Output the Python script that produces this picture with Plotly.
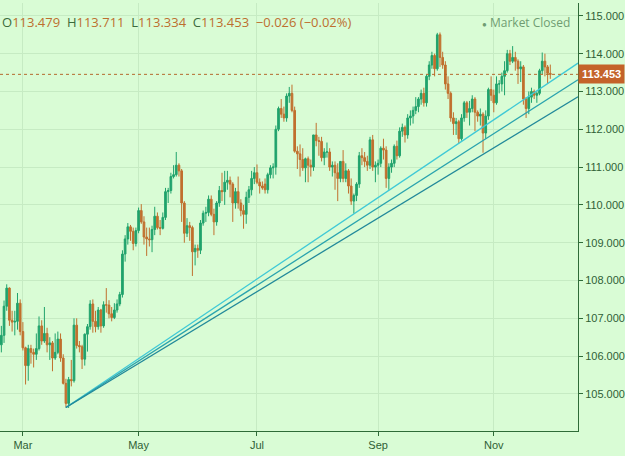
import pandas as pd
import plotly.graph_objects as go

# daily USD/JPY bars, one row per week (Mon..Fri), Feb 19 - Nov 30 2018
dates = pd.bdate_range("2018-02-19", "2018-11-30")

opens = [
    106.30, 106.55, 107.32, 107.80, 106.95,
    106.90, 106.92, 107.40, 106.65, 106.22,
    105.75, 106.20, 106.10, 106.05, 106.20,
    106.80, 106.40, 106.60, 106.30, 106.35,
    105.95, 106.10, 106.45, 105.95, 105.28,
    104.75, 105.38, 105.35, 106.82, 106.28,
    106.25, 105.92, 106.58, 106.78, 107.38,
    106.92, 106.78, 107.22, 106.80, 107.36,
    107.35, 107.12, 107.02, 107.22, 107.38,
    107.63, 108.70, 109.10, 109.42, 109.30,
    108.98, 109.32, 109.85, 109.55, 109.15,
    109.10, 109.08, 109.35, 109.70, 109.40,
    109.38, 109.67, 110.35, 110.38, 110.75,
    110.80, 111.05, 110.90, 110.05, 109.25,
    109.45, 109.40, 108.76, 108.85, 108.80,
    109.52, 109.78, 109.80, 110.15, 109.75,
    109.55, 110.05, 110.38, 110.35, 110.60,
    110.65, 110.55, 110.05, 110.35, 110.05,
    109.85, 109.75, 110.20, 110.40, 110.70,
    110.85, 110.60, 110.50, 110.55, 110.40,
    110.80, 110.98, 111.00, 112.00, 112.55,
    112.40, 112.30, 112.88, 112.95, 112.50,
    111.42, 111.35, 111.20, 110.98, 111.22,
    111.05, 111.00, 111.85, 111.70, 111.68,
    111.25, 111.40, 111.40, 111.00, 111.05,
    110.85, 110.70, 111.15, 110.70, 110.90,
    110.50, 110.10, 110.25, 110.55, 111.30,
    111.25, 111.15, 111.05, 111.72, 111.00,
    111.05, 111.10, 111.50, 111.45, 110.70,
    111.00, 111.10, 111.55, 111.30, 111.95,
    112.05, 111.85, 112.30, 112.35, 112.50,
    112.60, 112.80, 112.95, 112.70, 113.40,
    113.70, 113.95, 113.60, 114.50, 113.90,
    113.70, 113.20, 112.95, 112.30, 112.15,
    112.20, 111.75, 112.30, 112.70, 112.45,
    112.55, 112.80, 112.45, 112.35, 112.40,
    111.90, 112.35, 113.05, 112.90, 112.70,
    113.20, 113.20, 113.40, 113.55, 114.00,
    113.80, 113.90, 113.80, 113.60, 113.65,
    112.80, 112.55, 112.85, 113.00, 112.90,
    112.95, 113.55, 113.80, 113.65, 113.479,
]
highs = [
    106.80, 107.47, 107.90, 107.82, 107.20,
    107.20, 107.67, 107.50, 106.90, 106.25,
    106.30, 106.30, 106.20, 106.60, 107.05,
    106.95, 107.30, 106.75, 106.50, 106.40,
    106.60, 106.65, 106.60, 106.05, 105.40,
    105.45, 105.90, 107.00, 107.00, 106.40,
    106.30, 106.60, 106.85, 107.48, 107.50,
    107.20, 107.30, 107.25, 107.45, 107.80,
    107.48, 107.30, 107.40, 107.50, 107.70,
    108.80, 109.20, 109.52, 109.47, 109.40,
    109.40, 109.93, 110.02, 109.70, 109.40,
    109.40, 109.45, 109.95, 109.80, 109.60,
    109.80, 110.45, 110.45, 110.85, 111.05,
    111.40, 111.10, 110.95, 110.10, 109.65,
    109.55, 109.45, 108.95, 108.95, 109.60,
    109.85, 109.95, 110.25, 110.25, 109.90,
    110.10, 110.50, 110.85, 110.90, 110.90,
    110.75, 110.60, 110.45, 110.75, 110.15,
    110.00, 110.35, 110.50, 110.90, 111.00,
    111.07, 110.70, 110.62, 110.70, 110.85,
    111.05, 111.10, 112.10, 112.60, 112.80,
    112.60, 112.95, 113.12, 113.18, 112.60,
    111.55, 111.60, 111.50, 111.25, 111.28,
    111.20, 111.85, 112.17, 111.80, 111.80,
    111.50, 111.65, 111.50, 111.15, 111.15,
    111.10, 111.15, 111.45, 111.10, 110.95,
    110.70, 110.30, 110.60, 111.40, 111.50,
    111.40, 111.30, 111.80, 111.85, 111.15,
    111.20, 111.55, 111.75, 111.55, 111.10,
    111.20, 111.60, 111.70, 112.05, 112.15,
    112.10, 112.40, 112.50, 112.60, 112.85,
    112.85, 113.05, 113.10, 113.45, 113.80,
    114.05, 114.00, 114.55, 114.56, 114.05,
    113.80, 113.40, 113.00, 112.45, 112.30,
    112.25, 112.40, 112.75, 112.75, 112.75,
    112.90, 112.85, 112.50, 112.55, 112.45,
    112.50, 113.10, 113.40, 113.05, 113.40,
    113.30, 113.50, 113.80, 114.10, 114.10,
    114.20, 114.05, 113.85, 113.80, 113.70,
    112.85, 113.00, 113.10, 113.05, 113.00,
    113.60, 114.03, 114.00, 113.70, 113.711,
]
lows = [
    106.10, 106.35, 107.20, 106.80, 106.65,
    106.55, 106.70, 106.55, 106.15, 105.25,
    105.35, 105.80, 105.70, 105.90, 106.15,
    106.30, 106.35, 106.10, 105.90, 105.60,
    105.90, 106.05, 105.85, 105.25, 104.64,
    104.63, 105.20, 105.30, 106.20, 106.10,
    105.66, 105.75, 106.12, 106.70, 106.62,
    106.63, 106.70, 106.62, 106.75, 107.15,
    107.00, 106.92, 106.98, 107.15, 107.32,
    107.55, 108.50, 108.95, 109.05, 108.80,
    108.90, 109.25, 109.50, 108.95, 108.65,
    108.90, 108.75, 109.20, 109.35, 109.20,
    109.35, 109.60, 110.05, 110.30, 110.70,
    110.75, 110.75, 109.55, 109.00, 109.15,
    109.05, 108.12, 108.40, 108.60, 108.70,
    109.45, 109.55, 109.70, 109.70, 109.20,
    109.45, 109.95, 110.10, 110.00, 110.40,
    110.20, 109.55, 109.90, 109.90, 109.70,
    109.37, 109.50, 110.05, 110.25, 110.55,
    110.55, 110.30, 110.40, 110.30, 110.30,
    110.70, 110.70, 110.80, 111.95, 112.30,
    112.20, 112.20, 112.70, 112.45, 111.38,
    110.95, 110.75, 110.90, 110.60, 110.60,
    110.75, 110.90, 111.55, 111.30, 111.15,
    111.05, 111.25, 110.90, 110.75, 110.40,
    110.10, 110.60, 110.60, 110.60, 110.30,
    110.00, 109.77, 110.10, 110.45, 111.05,
    111.00, 110.90, 110.95, 110.90, 110.60,
    110.80, 111.00, 111.20, 110.45, 110.40,
    110.85, 111.00, 111.20, 111.25, 111.80,
    111.65, 111.75, 112.10, 112.15, 112.40,
    112.45, 112.65, 112.60, 112.60, 113.30,
    113.60, 113.40, 113.55, 113.65, 113.60,
    113.05, 112.80, 112.20, 111.85, 111.85,
    111.63, 111.70, 112.20, 112.30, 112.10,
    112.45, 111.95, 112.20, 112.10, 111.38,
    111.75, 112.25, 112.75, 112.45, 112.65,
    112.95, 113.00, 112.90, 113.50, 113.70,
    113.75, 113.55, 113.20, 113.25, 112.65,
    112.30, 112.40, 112.70, 112.80, 112.70,
    112.90, 113.45, 113.40, 113.20, 113.334,
]
closes = [
    106.55, 107.32, 107.80, 106.95, 106.90,
    106.92, 107.40, 106.65, 106.22, 105.75,
    106.20, 106.10, 106.05, 106.20, 106.80,
    106.40, 106.60, 106.30, 106.35, 105.95,
    106.10, 106.45, 105.95, 105.28, 104.75,
    105.38, 105.35, 106.82, 106.28, 106.25,
    105.92, 106.58, 106.78, 107.38, 106.92,
    106.78, 107.22, 106.80, 107.36, 107.35,
    107.12, 107.02, 107.22, 107.38, 107.63,
    108.70, 109.10, 109.42, 109.30, 108.98,
    109.32, 109.85, 109.55, 109.15, 109.10,
    109.08, 109.35, 109.70, 109.40, 109.38,
    109.67, 110.35, 110.38, 110.75, 110.80,
    111.05, 110.90, 110.05, 109.25, 109.45,
    109.40, 108.76, 108.85, 108.80, 109.52,
    109.78, 109.80, 110.15, 109.75, 109.55,
    110.05, 110.38, 110.35, 110.60, 110.65,
    110.55, 110.05, 110.35, 110.05, 109.85,
    109.75, 110.20, 110.40, 110.70, 110.85,
    110.60, 110.50, 110.45, 110.40, 110.80,
    110.98, 111.00, 112.00, 112.55, 112.40,
    112.30, 112.88, 112.95, 112.50, 111.42,
    111.35, 111.20, 110.98, 111.22, 111.05,
    111.00, 111.85, 111.70, 111.68, 111.25,
    111.40, 111.40, 111.00, 111.05, 110.85,
    110.70, 111.15, 110.70, 110.90, 110.50,
    110.10, 110.25, 110.55, 111.30, 111.25,
    111.15, 111.05, 111.72, 111.00, 111.05,
    111.10, 111.50, 111.45, 110.70, 111.00,
    111.10, 111.55, 111.30, 111.95, 112.05,
    111.85, 112.30, 112.35, 112.50, 112.60,
    112.80, 112.95, 112.70, 113.40, 113.70,
    113.95, 113.60, 114.50, 113.90, 113.70,
    113.20, 112.95, 112.30, 112.15, 112.20,
    111.75, 112.30, 112.70, 112.45, 112.55,
    112.80, 112.45, 112.35, 112.40, 111.90,
    112.35, 113.05, 112.90, 112.70, 113.20,
    113.20, 113.40, 113.55, 114.00, 113.80,
    113.90, 113.80, 113.60, 113.65, 112.80,
    112.55, 112.85, 113.00, 112.90, 112.95,
    113.55, 113.80, 113.65, 113.48, 113.453,
]

# three trend lines drawn from the March low out to the right edge
trend_start = ("2018-03-23", 104.64)
trend_end_date = "2018-12-14 07:00"
trend_end_prices = [113.75, 113.31, 112.86]
trend_colors = ["#3fc9d6", "#2aa3ae", "#22899a"]

month_ticks = ["2018-03-01", "2018-05-01", "2018-07-02", "2018-09-03", "2018-11-01"]
month_labels = ["Mar", "May", "Jul", "Sep", "Nov"]

last_price = 113.453
header = [("O", "113.479"), ("H", "113.711"), ("L", "113.334"), ("C", "113.453")]
change = "\u22120.026 (\u22120.02%)"

BG = "#d9fcd5"
GRID = "#c6ebc3"
AXIS = "#2f6b38"
TXT = "#2f5f36"
UP = "#20a36c"
DOWN = "#c0702e"

fig = go.Figure()
fig.add_trace(go.Candlestick(
    x=dates, open=opens, high=highs, low=lows, close=closes,
    increasing=dict(line=dict(color=UP, width=1), fillcolor=UP),
    decreasing=dict(line=dict(color=DOWN, width=1), fillcolor=DOWN),
    whiskerwidth=0, showlegend=False, hoverinfo="skip",
))

for p, c in zip(trend_end_prices, trend_colors):
    fig.add_trace(go.Scatter(
        x=[trend_start[0], trend_end_date], y=[trend_start[1], p],
        mode="lines", line=dict(color=c, width=1.3), showlegend=False, hoverinfo="skip",
    ))

fig.add_hline(y=last_price, line=dict(color="#b5692e", width=1, dash="dot"))

hdr = "\u00a0\u00a0".join(
    f"<span style='color:#3c6b3c'>{k}</span><span style='color:#bd6f2f'>{v}</span>" for k, v in header
)
hdr += f"\u00a0\u00a0<span style='color:#bd6f2f'>{change}</span>"

fig.add_annotation(text=hdr, xref="paper", yref="paper", x=0, y=0.955,
                   xanchor="left", yanchor="middle", showarrow=False,
                   font=dict(family="Open Sans", size=13))
fig.add_annotation(text="<span style='font-size:8px'>\u25cf</span> Market Closed",
                   xref="paper", yref="paper", x=0.99, y=0.955,
                   xanchor="right", yanchor="middle", showarrow=False,
                   font=dict(family="Open Sans", size=12, color="#6f9c72"))
fig.add_annotation(text=f"<b>{last_price:.3f}</b>", xref="paper", yref="y",
                   x=1, y=last_price, xanchor="left", yanchor="middle", showarrow=False,
                   bgcolor="#c4622a", borderpad=3,
                   font=dict(family="Liberation Sans", size=11, color="white"))

fig.update_layout(
    width=625, height=456,
    margin=dict(l=0, r=45, t=3, b=25),
    paper_bgcolor=BG, plot_bgcolor=BG,
    boxgap=0.1,
    font=dict(family="Liberation Sans", size=11, color=TXT),
    xaxis=dict(
        type="date", rangeslider=dict(visible=False),
        range=["2018-02-16 12:00", trend_end_date],
        rangebreaks=[dict(bounds=["sat", "mon"])],
        tickvals=month_ticks, ticktext=month_labels,
        ticks="outside", ticklen=4, tickcolor=AXIS,
        showline=True, linecolor=AXIS, linewidth=1,
        showgrid=True, gridcolor=GRID, gridwidth=1, zeroline=False,
    ),
    yaxis=dict(
        side="right", range=[104.02, 115.34], dtick=1, tick0=0, tickformat=".3f",
        ticks="outside", ticklen=4, tickcolor=AXIS,
        showline=True, linecolor=AXIS, linewidth=1,
        showgrid=True, gridcolor=GRID, gridwidth=1, zeroline=False,
    ),
)

# page has a default 8px body margin; drop it so the chart sits at the corner
fig.write_html("out.html", config={"displayModeBar": False},
               post_script="document.body.style.margin='0';")
